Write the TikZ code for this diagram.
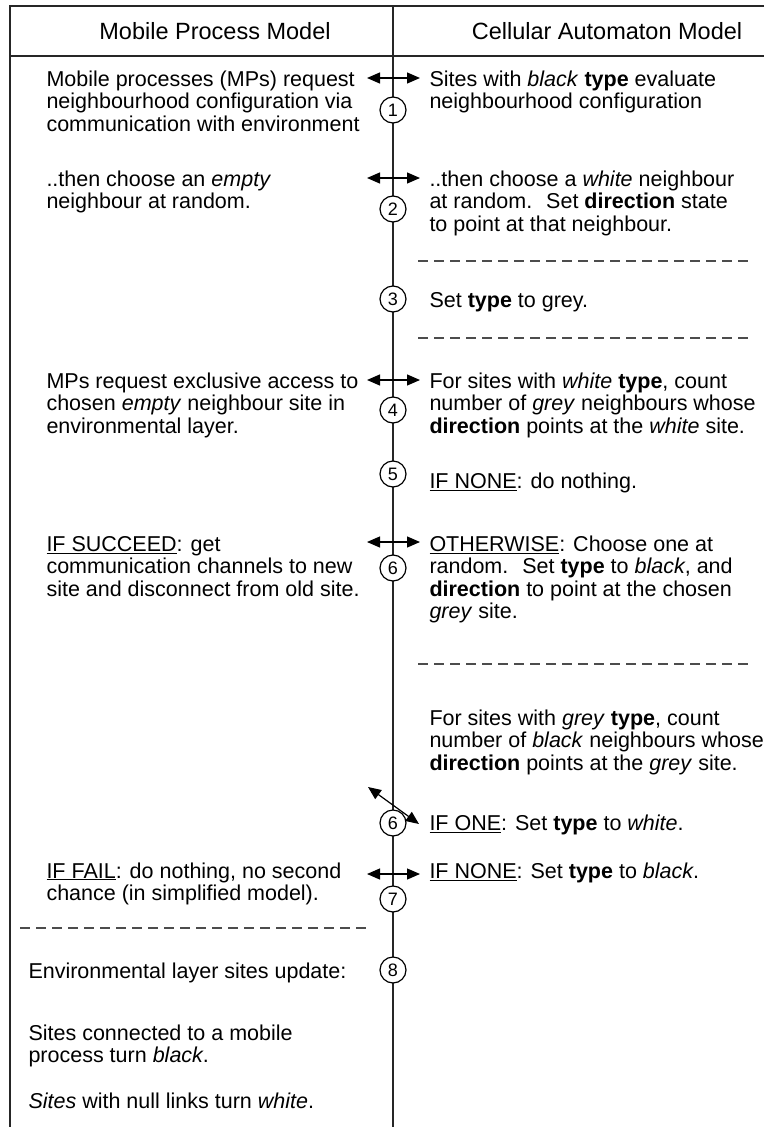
\documentclass[tikz,border=0pt]{standalone}
\usepackage{fontspec}
\setmainfont{Liberation Sans}
\usetikzlibrary{arrows.meta}
\begin{document}
\begin{tikzpicture}[x=1pt,y=-1pt, line width=1pt,
  txt/.style={anchor=north west, inner sep=0pt, align=left, font=\fontsize{21.5}{22.5}\selectfont},
  hdr/.style={inner sep=0pt, font=\fontsize{23.5}{24}\selectfont},
  num/.style={circle, draw, fill=white, minimum size=26pt, inner sep=0pt, line width=1.2pt, font=\fontsize{18}{18}\selectfont},
  link/.style={{Triangle[length=13pt,width=11pt]}-{Triangle[length=13pt,width=11pt]}, line width=1.2pt},
  sepline/.style={dash pattern=on 10pt off 6pt, line width=1.2pt, draw=black!70},
  frame/.style={line width=1.3pt, draw=black!85}]
\useasboundingbox (0,0) rectangle (764,1127);
% frame
\draw[frame] (764,6) -- (10,6) -- (10,1127);
\draw[frame] (10,56) -- (764,56);
\draw[frame] (393,6) -- (393,1127);
% headers
\node[hdr] (h1) at (215,31) {Mobile Process Model};
\node[hdr] (h2) at (607,31) {Cellular Automaton Model};
% left texts
\node[txt] (l1) at (46,70) {\strut Mobile processes (MPs) request\\neighbourhood configuration via\\communication with environment};
\node[txt] (l2) at (46,170) {\strut ..then choose an \textit{empty}\\neighbour at random.};
\node[txt] (l4) at (46,372) {\strut MPs request exclusive access to\\chosen \textit{empty} neighbour site in\\environmental layer.};
\node[txt] (l6) at (46,535) {\strut \underline{IF SUCCEED}: get\\communication channels to new\\site and disconnect from old site.};
\node[txt] (l7) at (46,862) {\strut \underline{IF FAIL}: do nothing, no second\\chance (in simplified model).};
\node[txt] (l8) at (28,962) {\strut Environmental layer sites update:};
\node[txt] (l8b) at (28,1024) {\strut Sites connected to a mobile\\process turn \textit{black}.};
\node[txt] (l8c) at (28,1092) {\strut \textit{Sites} with null links turn \textit{white}.};
% right texts
\node[txt] (r1) at (429,70) {\strut Sites with \textit{black} \textbf{type} evaluate\\neighbourhood configuration};
\node[txt] (r2) at (429,170) {\strut ..then choose a \textit{white} neighbour\\at random.~ Set \textbf{direction} state\\to point at that neighbour.};
\node[txt] (r3) at (429,291) {\strut Set \textbf{type} to grey.};
\node[txt] (r4) at (429,372) {\strut For sites with \textit{white} \textbf{type}, count\\number of \textit{grey} neighbours whose\\\textbf{direction} points at the \textit{white} site.};
\node[txt] (r5) at (429,472) {\strut \underline{IF NONE}: do nothing.};
\node[txt] (r6) at (429,535) {\strut \underline{OTHERWISE}: Choose one at\\random.~ Set \textbf{type} to \textit{black}, and\\\textbf{direction} to point at the chosen\\\textit{grey} site.};
\node[txt] (r6b) at (429,709) {\strut For sites with \textit{grey} \textbf{type}, count\\number of \textit{black} neighbours whose\\\textbf{direction} points at the \textit{grey} site.};
\node[txt] (r6c) at (429,814) {\strut \underline{IF ONE}: Set \textbf{type} to \textit{white}.};
\node[txt] (r7) at (429,862) {\strut \underline{IF NONE}: Set \textbf{type} to \textit{black}.};
% dashed separators
\coordinate (d1a) at (418,261); \coordinate (d1b) at (752,261);
\coordinate (d2a) at (418,338); \coordinate (d2b) at (752,338);
\coordinate (d3a) at (418,664); \coordinate (d3b) at (752,664);
\coordinate (d4a) at (20,928);  \coordinate (d4b) at (372,928);
\draw[sepline] (d1a) -- (d1b);
\draw[sepline] (d2a) -- (d2b);
\draw[sepline] (d3a) -- (d3b);
\draw[sepline] (d4a) -- (d4b);
% arrows
\coordinate (a1l) at (367,78);  \coordinate (a1r) at (420,78);
\coordinate (a2l) at (367,178); \coordinate (a2r) at (420,178);
\coordinate (a4l) at (367,380); \coordinate (a4r) at (420,380);
\coordinate (a6l) at (367,542); \coordinate (a6r) at (420,542);
\coordinate (a7l) at (367,874); \coordinate (a7r) at (420,874);
\coordinate (a8l) at (368,787); \coordinate (a8r) at (419,824);
\draw[link] (a1l) -- (a1r);
\draw[link] (a2l) -- (a2r);
\draw[link] (a4l) -- (a4r);
\draw[link] (a6l) -- (a6r);
\draw[link] (a7l) -- (a7r);
\draw[link] (a8l) -- (a8r);
% numbered circles
\node[num] (n1) at (393,110) {1};
\node[num] (n2) at (393,209) {2};
\node[num] (n3) at (393,299) {3};
\node[num] (n4) at (393,410) {4};
\node[num] (n5) at (393,474) {5};
\node[num] (n6) at (393,568) {6};
\node[num] (n6b) at (393,823) {6};
\node[num] (n7) at (393,899) {7};
\node[num] (n8) at (393,970) {8};
\end{tikzpicture}
\end{document}
